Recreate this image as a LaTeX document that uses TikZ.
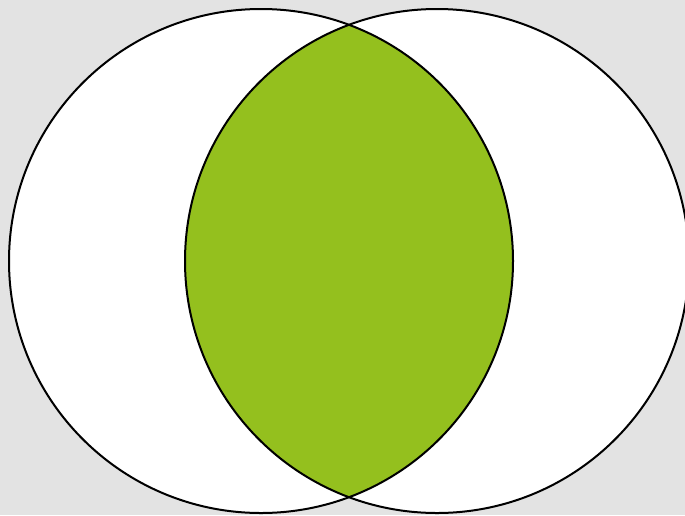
\documentclass[tikz,border=0pt]{standalone}
\definecolor{bg}{HTML}{E3E3E3}
\definecolor{lens}{HTML}{94C01E}
\tikzset{setcircle/.style={draw=black, line width=2pt}}
\begin{document}
\begin{tikzpicture}[x=1pt,y=-1pt]
\fill[bg] (0,0) rectangle (685,515);
\useasboundingbox (0,0) rectangle (685,515);
\clip (0,0) rectangle (685,515);
\coordinate (A) at (261,261);
\coordinate (B) at (437,261);
\fill[white] (A) circle[radius=252];
\fill[white] (B) circle[radius=252];
\begin{scope}
\clip (A) circle[radius=252];
\fill[lens] (B) circle[radius=252];
\end{scope}
\draw[setcircle] (A) circle[radius=252];
\draw[setcircle] (B) circle[radius=252];
\end{tikzpicture}
\end{document}
